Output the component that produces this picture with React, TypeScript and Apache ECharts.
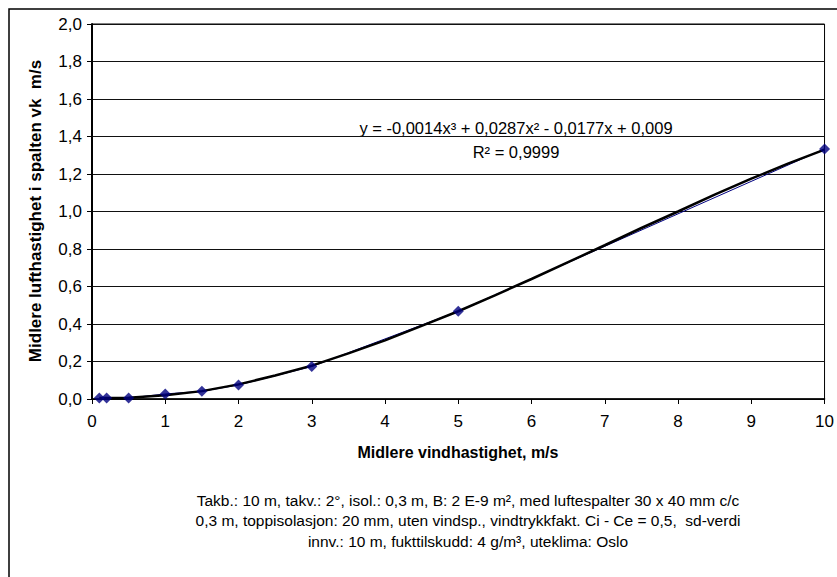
import React, { useEffect, useRef } from "react";
import * as echarts from "echarts";

// Measured data (wind speed m/s -> air speed in gap m/s)
const windSpeed = [0.1, 0.2, 0.5, 1, 1.5, 2, 3, 5, 10];
const airSpeed = [0.005, 0.005, 0.005, 0.027, 0.041, 0.075, 0.173, 0.468, 1.334];

// Trendline
const trendX = [0.1, 0.5, 1, 1.5, 2, 2.5, 3, 3.5, 4, 4.5, 5, 5.5, 6, 6.5, 7, 7.5, 8, 8.5, 9, 9.5, 10];
const trendY = [0.006, 0.007, 0.02, 0.042, 0.078, 0.125, 0.178, 0.243, 0.313, 0.39, 0.468, 0.553, 0.64, 0.73, 0.82, 0.912, 1.0, 1.09, 1.175, 1.255, 1.33];

const xTitle = "Midlere vindhastighet, m/s";
const yTitle = "Midlere lufthastighet i spalten vk  m/s";
const equation = "y = -0,0014x³ + 0,0287x² - 0,0177x + 0,009";
const rSquared = "R² = 0,9999";
const captionLines = [
  "Takb.: 10 m, takv.: 2°, isol.: 0,3 m, B: 2 E-9 m², med luftespalter 30 x 40 mm c/c",
  "0,3 m, toppisolasjon: 20 mm, uten vindsp., vindtrykkfakt. Ci - Ce = 0,5,  sd-verdi",
  "innv.: 10 m, fukttilskudd: 4 g/m³, uteklima: Oslo",
];

const FONT = "'Liberation Sans', Arial, sans-serif";

export default function App() {
  const ref = useRef<HTMLDivElement>(null);
  useEffect(() => {
    document.body.style.margin = "0";
    const chart = echarts.init(ref.current!, undefined, { renderer: "svg" });
    const fmt = (v: number) => v.toFixed(1).replace(".", ",");
    chart.setOption({
      animation: false,
      backgroundColor: "#fff",
      grid: {
        left: 92,
        top: 24,
        right: 12,
        bottom: 178,
        show: true,
        borderColor: "#000",
        borderWidth: 1,
        backgroundColor: "#fff",
      },
      xAxis: {
        type: "value",
        min: 0,
        max: 10,
        interval: 1,
        axisLine: { show: true, onZero: false, lineStyle: { color: "#000", width: 1.5 } },
        axisTick: { show: true, length: 5, lineStyle: { color: "#000" } },
        axisLabel: { color: "#000", fontFamily: FONT, fontSize: 17, margin: 14 },
        splitLine: { show: false },
      },
      yAxis: {
        type: "value",
        min: 0,
        max: 2,
        interval: 0.2,
        axisLine: { show: true, onZero: false, lineStyle: { color: "#000", width: 2 } },
        axisTick: { show: true, length: 5, lineStyle: { color: "#000" } },
        axisLabel: { color: "#000", fontFamily: FONT, fontSize: 17, margin: 10, formatter: fmt },
        splitLine: { show: true, lineStyle: { color: "#111", width: 1 } },
      },
      series: [
        {
          type: "line",
          data: windSpeed.map((x, i) => [x, airSpeed[i]]),
          showSymbol: false,
          symbol: "none",
          lineStyle: { color: "#000080", width: 1 },
          z: 1,
        },
        {
          type: "line",
          data: trendX.map((x, i) => [x, trendY[i]]),
          symbol: "none",
          lineStyle: { color: "#000", width: 2.5 },
          z: 2,
        },
        {
          type: "scatter",
          data: windSpeed.map((x, i) => [x, airSpeed[i]]),
          symbol: "diamond",
          symbolSize: 11,
          itemStyle: { color: "#000080" },
          z: 3,
        },
      ],
      graphic: [
        {
          type: "rect",
          shape: { x: 9, y: 9, width: 850, height: 600 },
          style: { fill: "none", stroke: "#000", lineWidth: 1.5 },
          silent: true,
        },
        {
          type: "text",
          x: 516,
          y: 128,
          style: { text: equation, fontFamily: FONT, fontSize: 16.5, fill: "#000", align: "center", verticalAlign: "middle" },
        },
        {
          type: "text",
          x: 516,
          y: 152,
          style: { text: rSquared, fontFamily: FONT, fontSize: 16.5, fill: "#000", align: "center", verticalAlign: "middle" },
        },
        {
          type: "text",
          x: 458,
          y: 452,
          style: { text: xTitle, fontFamily: FONT, fontSize: 16, fontWeight: "bold", fill: "#000", align: "center", verticalAlign: "middle" },
        },
        {
          type: "text",
          x: 35,
          y: 211,
          rotation: Math.PI / 2,
          style: { text: yTitle, fontFamily: FONT, fontSize: 17, fontWeight: "bold", fill: "#000", align: "center", verticalAlign: "middle" },
        },
        ...captionLines.map((t, i) => ({
          type: "text",
          x: 468,
          y: 500 + i * 20.5,
          style: { text: t, fontFamily: FONT, fontSize: 15.5, fill: "#000", align: "center", verticalAlign: "middle" },
        })),
      ],
    });
    return () => chart.dispose();
  }, []);
  return <div ref={ref} style={{ width: 837, height: 577, position: "absolute", left: 0, top: 0 }} />;
}
